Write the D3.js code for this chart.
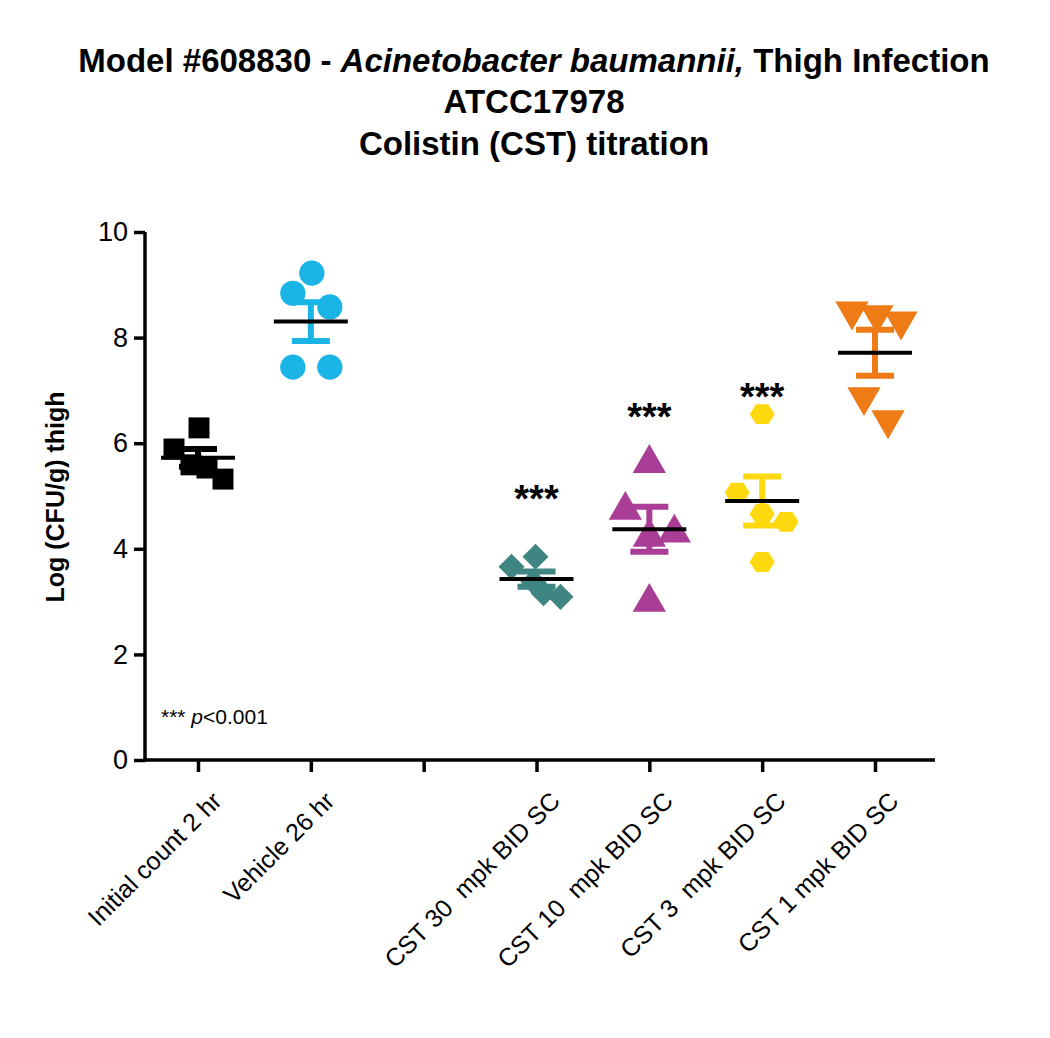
<!DOCTYPE html>
<html>
<head>
<meta charset="utf-8">
<script src="https://cdnjs.cloudflare.com/ajax/libs/d3/7.8.5/d3.min.js"></script>
<style>
  body { margin: 0; background: #fff; }
  svg { font-family: Arial, "Liberation Sans", sans-serif; }
</style>
</head>
<body>
<svg id="chart" width="1050" height="1038"></svg>
<script>
// Groups, in axis order; the empty slot is the gap after "Vehicle 26 hr".
var groups = ['Initial count 2 hr', 'Vehicle 26 hr', '', 'CST 30  mpk BID SC', 'CST 10  mpk BID SC', 'CST 3  mpk BID SC', 'CST 1 mpk BID SC'];
var colors = ['#000000', '#1ab4e6', null, '#3f8683', '#aa3d96', '#ffd90f', '#ee7b16'];
var symbols = ['square', 'circle', null, 'diamond', 'triangle', 'hexagon', 'down'];
// baseline of the "***" marks, in axis units (null = none)
var starAt = [null, null, null, 4.92, 6.48, 6.86, null];
// Log(CFU/g) per animal
var values = [
  [6.29, 5.89, 5.59, 5.53, 5.32],
  [9.22, 8.84, 8.58, 7.44, 7.44],
  [],
  [3.85, 3.66, 3.37, 3.16, 3.09],
  [5.62, 4.73, 4.22, 4.30, 2.99],
  [6.55, 5.06, 4.66, 4.51, 3.75],
  [8.50, 8.43, 8.31, 6.88, 6.44]
];
// horizontal scatter of each point (px), as placed in the picture
var jitter = [
  [1, -24, -7, 9, 25],
  [1, -18, 19, -18, 19],
  [],
  [-1, -25, -3, 7, 24],
  [0, -24, 0, 25, 0],
  [0, -25, 0, 24, 0],
  [-23, 2, 26, -11, 13]
];
var yTicks = [0, 2, 4, 6, 8, 10];

var svg = d3.select('#chart');
var x = d3.scalePoint().domain(d3.range(groups.length)).range([198, 875]);
var y = d3.scaleLinear().domain([0, 10]).range([760, 232]);

// Title
var title = svg.append('text').attr('x', 534).attr('text-anchor', 'middle')
  .attr('font-weight', 'bold').attr('font-size', 33);
var t1 = title.append('tspan').attr('x', 534).attr('y', 72);
t1.append('tspan').text('Model #608830 - ');
t1.append('tspan').attr('font-style', 'italic').text('Acinetobacter baumannii,');
t1.append('tspan').text(' Thigh Infection');
title.append('tspan').attr('x', 534).attr('y', 113).text('ATCC17978');
title.append('tspan').attr('x', 534).attr('y', 155).text('Colistin (CST) titration');

// Y axis
var yAxis = svg.append('g').attr('transform', 'translate(145,0)')
  .call(d3.axisLeft(y).tickValues(yTicks).tickSize(11).tickPadding(6));
yAxis.select('.domain').attr('stroke-width', 3.5).attr('d', 'M0,' + y(10) + 'V' + (y(0) + 1.5));
yAxis.selectAll('.tick line').attr('stroke-width', 3.5);
yAxis.selectAll('.tick text').attr('font-size', 27).attr('fill', '#000');

// X axis
var xAxis = svg.append('g').attr('transform', 'translate(0,760)')
  .call(d3.axisBottom(x).tickSize(12).tickFormat(function(i) { return groups[i]; }));
xAxis.select('.domain').attr('stroke-width', 3.5).attr('d', 'M143.5,0H935');
xAxis.selectAll('.tick line').attr('stroke-width', 3.5);
xAxis.selectAll('.tick text').attr('font-size', 25).attr('fill', '#000')
  .attr('text-anchor', 'end').attr('dy', 0).attr('xml:space', 'preserve')
  .style('white-space', 'pre')
  .attr('transform', 'translate(14,32) rotate(-45)');

// Y label
svg.append('text').attr('transform', 'translate(64,497) rotate(-90)')
  .attr('text-anchor', 'middle').attr('font-weight', 'bold').attr('font-size', 25)
  .text('Log (CFU/g) thigh');

function drawSymbol(g, kind, cx, cy, color) {
  if (kind === 'hexagon') {
    var r = 12.5, pts = d3.range(6).map(function(k) {
      var a = Math.PI / 3 * k;
      return [cx + r * Math.cos(a), cy + r * Math.sin(a) * 0.92];
    });
    g.append('polygon').attr('points', pts.join(' ')).attr('fill', color);
  } else if (kind === 'down') {
    g.append('path').attr('d', d3.symbol(d3.symbolTriangle, 480)())
      .attr('transform', 'translate(' + cx + ',' + cy + ') rotate(180)').attr('fill', color);
  } else if (kind === 'diamond') {
    g.append('path').attr('d', d3.symbol(d3.symbolSquare, 340)())
      .attr('transform', 'translate(' + cx + ',' + cy + ') rotate(45)').attr('fill', color);
  } else {
    var sym = kind === 'square' ? d3.symbolSquare : kind === 'circle' ? d3.symbolCircle : d3.symbolTriangle;
    var size = kind === 'square' ? 440 : kind === 'circle' ? 500 : 480;
    g.append('path').attr('d', d3.symbol(sym, size)())
      .attr('transform', 'translate(' + cx + ',' + cy + ')').attr('fill', color);
  }
}

groups.forEach(function(name, i) {
  var vals = values[i];
  if (!vals.length) return;
  var cx = x(i), g = svg.append('g');
  vals.forEach(function(v, j) { drawSymbol(g, symbols[i], cx + jitter[i][j], y(v), colors[i]); });
  var m = d3.mean(vals), sem = d3.deviation(vals) / Math.sqrt(vals.length);
  var ec = colors[i];
  g.append('line').attr('x1', cx).attr('x2', cx).attr('y1', y(m + sem)).attr('y2', y(m - sem))
    .attr('stroke', ec).attr('stroke-width', 6);
  [m + sem, m - sem].forEach(function(v) {
    g.append('line').attr('x1', cx - 19).attr('x2', cx + 19).attr('y1', y(v)).attr('y2', y(v))
      .attr('stroke', ec).attr('stroke-width', 6);
  });
  g.append('line').attr('x1', cx - 37).attr('x2', cx + 37).attr('y1', y(m)).attr('y2', y(m))
    .attr('stroke', '#000').attr('stroke-width', 4);
  if (starAt[i] != null) {
    svg.append('text').attr('x', cx).attr('y', y(starAt[i]) + 12).attr('text-anchor', 'middle')
      .attr('font-size', 38).attr('font-weight', 'bold').text('***');
  }
});

// Footnote
var fn = svg.append('text').attr('x', 161).attr('y', 724).attr('font-size', 21);
fn.append('tspan').text('*** ');
fn.append('tspan').attr('font-style', 'italic').text('p');
fn.append('tspan').text('<0.001');
</script>
</body>
</html>
